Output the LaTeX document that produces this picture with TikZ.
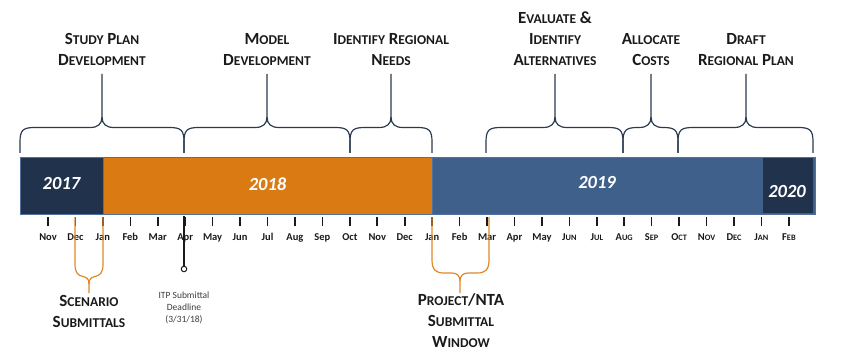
\documentclass[tikz,border=0pt]{standalone}
\usepackage{fontspec}
\setmainfont{Carlito}
\definecolor{navy}{HTML}{21324D}
\definecolor{barblue}{HTML}{40608C}
\definecolor{edgeblue}{HTML}{50709E}
\definecolor{barorange}{HTML}{DA7A12}
\definecolor{braceclr}{HTML}{2B3A4F}
\definecolor{obrace}{HTML}{E0872A}
\definecolor{txt}{HTML}{1A1A1A}
\newcommand\hsc[2]{{\fontsize{17}{21}\selectfont #1}{\fontsize{13.5}{21}\selectfont #2}}
\newcommand\msc[2]{{\fontsize{10.5}{12}\selectfont #1}{\fontsize{8.3}{12}\selectfont #2}}
\tikzset{
  head/.style={align=center,font=\bfseries\fontsize{17}{21}\selectfont,text=txt,inner sep=0pt,anchor=base},
  month/.style={font=\bfseries\fontsize{10.5}{12}\selectfont,text=txt,inner sep=0pt,anchor=base},
  year/.style={font=\bfseries\itshape\fontsize{18.5}{20}\selectfont,text=white,inner sep=0pt},
  seg/.style={draw=edgeblue,line width=0.8pt,inner sep=0pt},
  brace/.style={draw=braceclr,line width=1.2pt},
  obr/.style={draw=obrace,line width=1.2pt},
  tickmark/.style={draw=txt,line width=1.6pt},
}
\newcommand\topbrace[3]{%
  \draw[brace] (#1,153) -- (#1,142) .. controls (#1,130) and (#1+3,127.5) .. (#1+15,127.5)
    -- (#3-12,127.5) .. controls (#3-4,127.5) and (#3,124) .. (#3,117) -- (#3,74);
  \draw[brace] (#3,117) .. controls (#3,124) and (#3+4,127.5) .. (#3+12,127.5)
    -- (#2-15,127.5) .. controls (#2-3,127.5) and (#2,130) .. (#2,142) -- (#2,153);}
\begin{document}
\begin{tikzpicture}[x=1pt,y=-1pt]
\useasboundingbox (0,0) rectangle (850,358);
% bar segments
\node[seg,fill=barorange,minimum width=329,minimum height=57] (b2018) at (267.5,185.5) {};
\node[seg,fill=barblue,minimum width=383,minimum height=57] (b2019) at (623.5,185.5) {};
\node[seg,fill=navy,minimum width=83,minimum height=57] (b2017) at (61.5,185.5) {};
\node[fill=navy,inner sep=0pt,minimum width=50,minimum height=55] (b2020) at (788,185.5) {};
\node[year] (t2017) at (61.5,184) {2017};
\node[year] (t2018) at (267.5,184) {2018};
\node[year] (t2019) at (597,183) {2019};
\node[year] (t2020) at (787,192) {2020};
% ticks and months
\foreach \i in {0,...,27} {\draw[tickmark] ({48+\i*27.44},217) -- ({48+\i*27.44},226);}
\foreach \m [count=\i from 0] in {Nov,Dec,Jan,Feb,Mar,Apr,May,Jun,Jul,Aug,Sep,Oct,Nov,Dec,Jan,Feb,Mar,Apr,May,\msc{J}{UN},\msc{J}{UL},\msc{A}{UG},\msc{S}{EP},\msc{O}{CT},\msc{N}{OV},\msc{D}{EC},\msc{J}{AN},\msc{F}{EB}}
  {\node[month] (m\i) at ({48+\i*27.44},240) {\m};}
% top headings
\node[head] (h1) at (102,66) {\hsc{S}{TUDY} \hsc{P}{LAN}\\\hsc{D}{EVELOPMENT}};
\node[head] (h2) at (267,66) {\hsc{M}{ODEL}\\\hsc{D}{EVELOPMENT}};
\node[head] (h3) at (391,66) {\hsc{I}{DENTIFY} \hsc{R}{EGIONAL}\\\hsc{N}{EEDS}};
\node[head] (h4) at (555,66) {\hsc{E}{VALUATE} \&\\\hsc{I}{DENTIFY}\\\hsc{A}{LTERNATIVES}};
\node[head] (h5) at (651,66) {\hsc{A}{LLOCATE}\\\hsc{C}{OSTS}};
\node[head] (h6) at (746,66) {\hsc{D}{RAFT}\\\hsc{R}{EGIONAL} \hsc{P}{LAN}};
% top braces
\topbrace{20}{184}{102}
\topbrace{184}{350}{267}
\topbrace{350}{432}{391}
\topbrace{486}{623}{555}
\topbrace{623}{678}{651}
\topbrace{678}{813}{746}
% bottom orange braces
\draw[obr] (75,217) -- (75,264) .. controls (75,273) and (78,275.5) .. (83,276.5) .. controls (87,277.5) and (89,279) .. (89,284) -- (89,293);
\draw[obr] (103,217) -- (103,264) .. controls (103,273) and (100,275.5) .. (95,276.5) .. controls (91,277.5) and (89,279) .. (89,284);
\draw[obr] (432,217) -- (432,260) .. controls (432,270) and (436,273) .. (444,273) -- (452,273) .. controls (457,273) and (460,276) .. (460,281) -- (460,293);
\draw[obr] (489,217) -- (489,260) .. controls (489,270) and (485,273) .. (477,273) -- (468,273) .. controls (463,273) and (460,276) .. (460,281);
\node[head] (scen) at (89,327) {\hsc{S}{CENARIO}\\\hsc{S}{UBMITTALS}};
\node[head] (proj) at (461,347) {\hsc{P}{ROJECT}/NTA\\\hsc{S}{UBMITTAL}\\\hsc{W}{INDOW}};
% ITP deadline
\node[circle,draw=txt,line width=1pt,fill=white,inner sep=0pt,minimum size=5.5pt] (itp) at (184,269) {};
\draw[draw=txt,line width=1.4pt] (184,216) -- (itp.north);
\node[align=center,font=\fontsize{9.5}{12}\selectfont,text=txt!85,inner sep=0pt,anchor=base] (itpt) at (184,322) {ITP Submittal\\Deadline\\(3/31/18)};
\end{tikzpicture}
\end{document}
